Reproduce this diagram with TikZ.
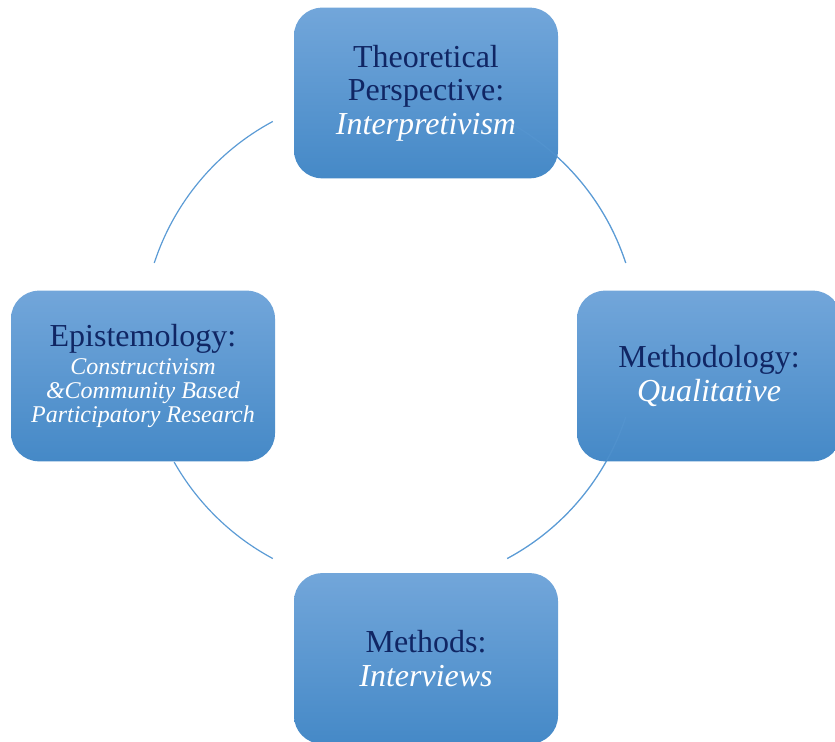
\documentclass[tikz,border=0pt]{standalone}
\usepackage{fontspec}
\setmainfont{Liberation Serif}
\definecolor{boxtop}{RGB}{114,166,218}
\definecolor{boxmid}{RGB}{84,151,219}
\definecolor{boxbot}{RGB}{69,137,199}
\definecolor{navy}{RGB}{16,38,100}
\definecolor{ringblue}{RGB}{91,155,213}
\newcommand{\sub}[1]{{\color{white}\itshape #1}}
\newcommand{\smallsub}[1]{{\fontsize{18}{18}\selectfont\color{white}\itshape #1}}

\begin{document}
\begin{tikzpicture}[x=0.75pt, y=0.75pt,
	stage/.style={
		rectangle,
		rounded corners=21pt,
		minimum width=198pt,
		minimum height=128pt,
		top color=boxtop, middle color=boxmid, bottom color=boxbot,
		align=center, text=navy,
		font=\fontsize{24}{25}\selectfont},
	link/.style={draw=ringblue, line width=0.9pt}]
	\useasboundingbox (0,0) rectangle (835,742);
	\coordinate (hub) at (390,402);
	% draw arcs of the cycle
	\foreach \a/\b in {118.2/161.9, 209.5/241.8, 298.2/341.9, 18.1/61.8}
	\draw[link] (hub) ++(\a:186pt) arc[start angle=\a, end angle=\b, radius=186pt];
	% draw stage boxes
	\node[stage] (theory) at (426,649) {Theoretical\\Perspective:\\\sub{Interpretivism}};
	\node[stage] (episteme) at (143,366) {Epistemology:\\[-3.5pt]\smallsub{Constructivism}\\[-7pt]\smallsub{\&Community Based}\\[-7pt]\smallsub{Participatory Research}};
	\node[stage] (method) at (709,366) {Methodology:\\\sub{Qualitative}};
	\node[stage] (methods) at (426,83.5) {Methods:\\\sub{Interviews}};
	% faint arcs seen through the boxes
	\foreach \a/\b in {298.2/341.9, 18.1/61.8}
	\draw[link, draw opacity=0.35] (hub) ++(\a:186pt) arc[start angle=\a, end angle=\b, radius=186pt];
\end{tikzpicture}
\end{document}
